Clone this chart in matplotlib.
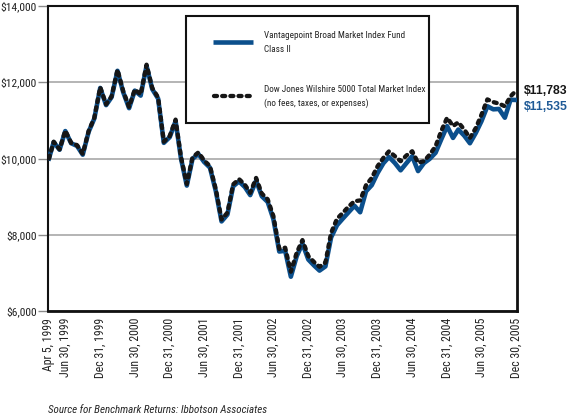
import os
import matplotlib
matplotlib.use('Agg')
import matplotlib.pyplot as plt
from matplotlib import font_manager
from matplotlib.font_manager import FontProperties
from matplotlib.patches import Rectangle
import pandas as pd

# ---- data ----
start_date = pd.Timestamp('1999-04-05')
month_ends = pd.date_range('1999-04-30', periods=81, freq=pd.offsets.MonthEnd())
dates = [start_date] + list(month_ends[:-1]) + [pd.Timestamp('2005-12-30')]

# Dow Jones Wilshire 5000 Total Market Index (growth of $10,000)
index_vals = [
    10000, 10440, 10240, 10730, 10410, 10350, 10120, 10720, 11070, 11870,
    11420, 11630, 12330, 11770, 11350, 11810, 11680, 12460, 11850, 11600, 10440, 10590,
    11020, 10050, 9330, 10030, 10160, 9950, 9800, 9190, 8400, 8580, 9320, 9460,
    9310, 9100, 9490, 9080, 8930, 8490, 7630, 7660, 7030, 7530, 7860, 7440,
    7280, 7160, 7270, 8050, 8420, 8570, 8740, 8880, 8900, 9300, 9490, 9800,
    10020, 10190, 10060, 9930, 10080, 10190, 9890, 9930, 10100, 10320, 10720, 11070,
    10850, 10950, 10760, 10540, 10800, 11150, 11550, 11480, 11440, 11370, 11630, 11783,
]

# Vantagepoint Broad Market Index Fund Class II
fund_vals = [
    10000, 10430, 10230, 10720, 10400, 10330, 10100, 10700, 11050, 11850,
    11400, 11610, 12300, 11740, 11320, 11780, 11650, 12430, 11820, 11570, 10410, 10560,
    10980, 10010, 9290, 9990, 10120, 9910, 9760, 9140, 8350, 8530, 9270, 9400,
    9250, 9040, 9420, 9010, 8860, 8410, 7560, 7580, 6900, 7440, 7770, 7350,
    7190, 7060, 7170, 7930, 8250, 8420, 8590, 8760, 8590, 9140, 9300, 9620,
    9880, 10040, 9880, 9690, 9880, 10060, 9670, 9880, 9990, 10150, 10500, 10850,
    10540, 10760, 10600, 10400, 10670, 10980, 11370, 11290, 11300, 11070, 11540, 11535,
]

tick_dates = ['1999-04-05', '1999-06-30', '1999-12-31', '2000-06-30', '2000-12-31',
              '2001-06-30', '2001-12-31', '2002-06-30', '2002-12-31', '2003-06-30',
              '2003-12-31', '2004-06-30', '2004-12-31', '2005-06-30', '2005-12-30']
tick_labels = ['Apr 5, 1999', 'Jun 30, 1999', 'Dec 31, 1999', 'Jun 30, 2000', 'Dec 31, 2000',
               'Jun 30, 2001', 'Dec 31, 2001', 'Jun 30, 2002', 'Dec 31, 2002', 'Jun 30, 2003',
               'Dec 31, 2003', 'Jun 30, 2004', 'Dec 31, 2004', 'Jun 30, 2005', 'Dec 30, 2005']
y_ticks = [6000, 8000, 10000, 12000, 14000]

fund_name = 'Vantagepoint Broad Market Index Fund\nClass II'
index_name = 'Dow Jones Wilshire 5000 Total Market Index\n(no fees, taxes, or expenses)'
source_note = 'Source for Benchmark Returns: Ibbotson Associates'

# Colors
blue = '#0b4f8c'
blue_text = '#1f5a96'
black = '#161616'


# ---- narrow font lookup ----
# (regular file, italic file, size factor); the first one installed wins
candidates = [
    ('LiberationSansNarrow-Regular.ttf', 'LiberationSansNarrow-Italic.ttf', 1.0),
    ('RobotoCondensed-Regular.ttf', 'RobotoCondensed-Italic.ttf', 0.92),
    ('NotoSans-Condensed.ttf', 'NotoSans-CondensedItalic.ttf', 0.92),
    ('OpenSans_Condensed-Regular.ttf', 'OpenSans_Condensed-Italic.ttf', 0.88),
    ('DejaVuSansCondensed.ttf', 'DejaVuSansCondensed-Oblique.ttf', 0.82),
]
installed = {os.path.basename(f.fname): f.fname for f in font_manager.fontManager.ttflist}
narrow, narrow_it, scale = None, None, 0.72
for reg, ita, fac in candidates:
    if reg in installed:
        narrow = installed[reg]
        narrow_it = installed.get(ita, narrow)
        scale = fac
        break


def cond(size, italic=False, fallback=None):
    path = narrow_it if italic else narrow
    if path:
        return FontProperties(fname=path, size=size * scale)
    return FontProperties(family='DejaVu Sans', size=fallback or size * scale,
                          style='italic' if italic else 'normal')


# ---- figure ----
fig = plt.figure(figsize=(5.70, 4.18), dpi=100)
ax = fig.add_axes([48 / 570, 1 - 311 / 418, 469 / 570, 305 / 418])

ax.plot(dates, fund_vals, color=blue, lw=3.3, zorder=3)
ax.plot(dates, index_vals, color=black, lw=3.1, dashes=(0.7, 1.2),
        dash_capstyle='round', zorder=4)

ax.set_ylim(6000, 14000)
ax.set_xlim(start_date - pd.Timedelta(days=5), pd.Timestamp('2005-12-30') + pd.Timedelta(days=4))

ax.set_yticks(y_ticks)
ax.set_yticklabels(['${:,}'.format(v) for v in y_ticks])
ax.set_xticks(pd.to_datetime(tick_dates))
ax.set_xticklabels(tick_labels, rotation=90, ha='center', va='top')

ax.yaxis.grid(True, color='#a8a8a8', lw=1.2)
ax.set_axisbelow(True)
ax.tick_params(axis='y', length=7, width=1, color='#8a8a8a', pad=1, labelcolor='#222')
ax.tick_params(axis='x', length=0, pad=5, labelcolor='#222')
for lab in ax.get_yticklabels():
    lab.set_fontproperties(cond(9.0, fallback=6.6))
for lab in ax.get_xticklabels():
    lab.set_fontproperties(cond(9.2, fallback=6.3))

for side in ['left', 'right', 'top', 'bottom']:
    ax.spines[side].set_color('#111')
    ax.spines[side].set_linewidth(1.5)
ax.spines['bottom'].set_linewidth(2)
ax.spines['right'].set_linewidth(2)

# ---- legend box ----
ax.add_patch(Rectangle((0.294, 0.616), 0.518, 0.351, transform=ax.transAxes,
                       facecolor='white', edgecolor='#111', lw=1.5, zorder=5))
ax.plot([0.352, 0.437], [0.882, 0.882], transform=ax.transAxes,
        color=blue, lw=3.3, solid_capstyle='butt', zorder=6)
ax.plot([0.355, 0.434], [0.705, 0.705], transform=ax.transAxes,
        color=black, lw=3.1, dashes=(0.7, 1.2), dash_capstyle='round', zorder=6)
ax.text(0.461, 0.880, fund_name, transform=ax.transAxes, ha='left', va='center',
        fontproperties=cond(7.1, fallback=5.4), color='#222', linespacing=1.6, zorder=6)
ax.text(0.461, 0.703, index_name, transform=ax.transAxes, ha='left', va='center',
        fontproperties=cond(7.1, fallback=5.4), color='#222', linespacing=1.6, zorder=6)

# ---- ending values ----
ax.annotate('${:,}'.format(index_vals[-1]), xy=(dates[-1], index_vals[-1]),
            xytext=(8, 0), textcoords='offset pixels', ha='left', va='center',
            fontsize=8.8, fontweight='bold', family='Liberation Sans', color=black,
            annotation_clip=False)
ax.annotate('${:,}'.format(fund_vals[-1]), xy=(dates[-1], fund_vals[-1]),
            xytext=(8, -7), textcoords='offset pixels', ha='left', va='center',
            fontsize=8.8, fontweight='bold', family='Liberation Sans', color=blue_text,
            annotation_clip=False)

fig.text(48 / 570, 1 - 410 / 418, source_note, ha='left', va='center',
         fontproperties=cond(8.6, italic=True, fallback=6.8), color='#222')

fig.savefig('out.png', dpi=100, facecolor='white')
